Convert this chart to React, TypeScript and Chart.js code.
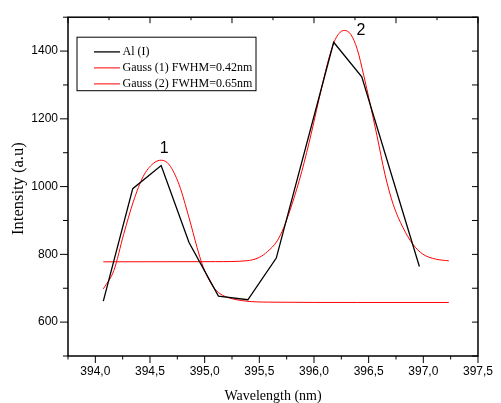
import { useEffect, useRef } from 'react';
import { Chart, registerables } from 'chart.js';

Chart.register(...registerables);

// Measured Al (I) spectrum
const alX = [394.073, 394.342, 394.602, 394.857, 395.126, 395.395, 395.655, 396.18, 396.437, 396.964];
const alY = [662, 994, 1062, 835, 677, 666, 789, 1426, 1324, 764];

// Gaussian fit of line 1
const gauss1X = [394.073, 394.169, 394.259, 394.349, 394.438, 394.528, 394.602, 394.677, 394.767, 394.857, 394.931, 394.976, 395.021, 395.081, 395.14, 395.23, 395.38, 395.586, 396.4, 397.233];
const gauss1Y = [698, 752, 859, 957, 1030, 1068, 1078, 1064, 1005, 908, 820, 772, 737, 703, 684, 671, 662, 659, 658, 658];

// Gaussian fit of line 2
const gauss2X = [394.073, 395.1, 395.38, 395.499, 395.574, 395.664, 395.723, 395.798, 395.888, 395.978, 396.067, 396.142, 396.202, 396.276, 396.337, 396.396, 396.456, 396.51, 396.575, 396.65, 396.725, 396.814, 396.904, 396.994, 397.113, 397.233];
const gauss2Y = [778, 778.5, 781, 791, 808, 840, 879, 947, 1044, 1161, 1288, 1385, 1439, 1461, 1449, 1405, 1327, 1249, 1152, 1035, 947, 879, 830, 801, 786, 781];

const seriesLabels = ['Al (I)', 'Gauss (1) FWHM=0.42nm', 'Gauss (2) FWHM=0.65nm'];

// Peak numbering
const peakNames = ['1', '2'];
const peakNameX = [394.63, 396.43];
const peakNameY = [1112, 1461];

const xMin = 393.75;
const xMax = 397.5;
const yMin = 500;
const yMax = 1500;

const SANS = '"Liberation Sans", Arial, sans-serif';
const SERIF = '"Liberation Serif", "Times New Roman", serif';

const toPoints = (xs: number[], ys: number[]) => xs.map((x, i) => ({ x, y: ys[i] }));
const isHalfStep = (v: number) => Math.abs(v * 2 - Math.round(v * 2)) < 1e-6;

const framePlugin = {
  id: 'originFrame',
  afterDatasetsDraw(chart: any) {
    const { ctx, scales } = chart;
    const xs = scales.x;
    const ys = scales.y;
    ctx.save();
    ctx.fillStyle = '#000';
    ctx.font = `16px ${SANS}`;
    ctx.textAlign = 'center';
    ctx.textBaseline = 'middle';
    peakNames.forEach((name, i) => {
      ctx.fillText(name, xs.getPixelForValue(peakNameX[i]), ys.getPixelForValue(peakNameY[i]));
    });
    ctx.restore();
  },
  afterDraw(chart: any) {
    const { ctx, chartArea, scales } = chart;
    const { left, right, top, bottom } = chartArea;
    const xs = scales.x;
    const ys = scales.y;
    ctx.save();
    ctx.strokeStyle = '#000';
    ctx.lineWidth = 1;
    const seg = (x1: number, y1: number, x2: number, y2: number) => {
      ctx.beginPath();
      ctx.moveTo(x1, y1);
      ctx.lineTo(x2, y2);
      ctx.stroke();
    };
    // bottom ticks (outward)
    xs.ticks.forEach((t: any) => {
      const px = xs.getPixelForValue(t.value);
      seg(px, bottom, px, bottom + (isHalfStep(t.value) ? 7 : 3.5));
    });
    // top ticks (inward), ten divisions
    for (let i = 0; i <= 10; i++) {
      const px = xs.getPixelForValue(xMin + ((xMax - xMin) * i) / 10);
      seg(px, top, px, top + (i % 2 === 0 ? 6 : 3));
    }
    // left ticks (outward) and right ticks (inward)
    ys.ticks.forEach((t: any) => {
      const py = ys.getPixelForValue(t.value);
      const major = t.value % 200 === 0;
      seg(left, py, left - (major ? 8 : 5), py);
      seg(right, py, right - 6, py);
    });
    // frame
    ctx.lineWidth = 1.5;
    ctx.strokeRect(left, top, right - left, bottom - top);

    // legend box
    const bx = left + 9;
    const by = top + 20;
    ctx.lineWidth = 1;
    ctx.strokeRect(bx, by, 179, 53.5);
    ctx.font = `12px ${SERIF}`;
    ctx.textAlign = 'left';
    ctx.textBaseline = 'middle';
    chart.data.datasets.forEach((ds: any, i: number) => {
      const ly = by + 14.7 + i * 16;
      ctx.strokeStyle = ds.borderColor;
      ctx.lineWidth = ds.borderWidth;
      seg(bx + 17, ly, bx + 43, ly);
      ctx.fillStyle = '#000';
      ctx.fillText(ds.label, bx + 45.5, ly);
    });

    // axis titles
    ctx.fillStyle = '#000';
    ctx.font = `14px ${SERIF}`;
    ctx.textAlign = 'center';
    ctx.textBaseline = 'alphabetic';
    ctx.fillText('Wavelength (nm)', (left + right) / 2, 400);
    ctx.save();
    ctx.translate(19, (top + bottom) / 2 + 2);
    ctx.rotate(-Math.PI / 2);
    ctx.font = `16.5px ${SERIF}`;
    ctx.textBaseline = 'middle';
    ctx.fillText('Intensity (a.u)', 0, 0);
    ctx.restore();
    ctx.restore();
  },
};

const App = () => {
  const canvasRef = useRef<HTMLCanvasElement>(null);

  useEffect(() => {
    if (!canvasRef.current) return;
    const chart = new Chart(canvasRef.current, {
      type: 'line',
      data: {
        datasets: [
          {
            label: seriesLabels[0],
            data: toPoints(alX, alY),
            borderColor: '#000000',
            borderWidth: 1.3,
            pointRadius: 0,
            tension: 0,
            order: 0,
          },
          {
            label: seriesLabels[1],
            data: toPoints(gauss1X, gauss1Y),
            borderColor: '#ff0000',
            borderWidth: 1,
            pointRadius: 0,
            cubicInterpolationMode: 'monotone',
            order: 1,
          },
          {
            label: seriesLabels[2],
            data: toPoints(gauss2X, gauss2Y),
            borderColor: '#ff0000',
            borderWidth: 1,
            pointRadius: 0,
            cubicInterpolationMode: 'monotone',
            order: 2,
          },
        ],
      },
      options: {
        animation: false,
        responsive: false,
        events: [],
        layout: { padding: { left: 0, right: 15, top: 14, bottom: 0 } },
        plugins: { legend: { display: false }, tooltip: { enabled: false } },
        scales: {
          x: {
            type: 'linear',
            min: xMin,
            max: xMax,
            grid: { display: false, drawTicks: false },
            border: { display: false },
            ticks: {
              stepSize: 0.25,
              autoSkip: false,
              maxRotation: 0,
              padding: 8,
              color: '#000',
              font: { family: SANS, size: 12 },
              callback: (v: any) => (isHalfStep(Number(v)) ? Number(v).toFixed(1).replace('.', ',') : ''),
            },
            afterFit: (s: any) => {
              s.height = 47;
            },
          },
          y: {
            type: 'linear',
            min: yMin,
            max: yMax,
            grid: { display: false, drawTicks: false },
            border: { display: false },
            ticks: {
              stepSize: 100,
              autoSkip: false,
              padding: 10,
              color: '#000',
              font: { family: SANS, size: 12 },
              callback: (v: any) => {
                const n = Number(v);
                return n % 200 === 0 && n >= 600 && n <= 1400 ? String(n) : '';
              },
            },
            afterFit: (s: any) => {
              s.width = 68;
            },
          },
        },
      } as any,
      plugins: [framePlugin],
    });
    return () => chart.destroy();
  }, []);

  return (
    <div style={{ position: 'absolute', left: 0, top: 0, width: 501, height: 403, background: '#fff' }}>
      <canvas ref={canvasRef} width={501} height={403} style={{ display: 'block' }} />
    </div>
  );
};

export default App;
